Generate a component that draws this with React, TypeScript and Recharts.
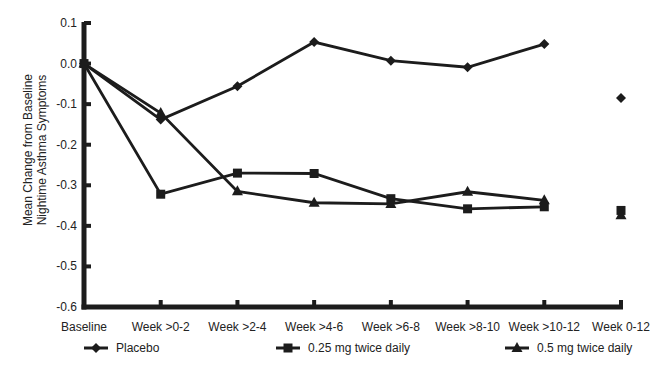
import { Line, LineChart, XAxis, YAxis } from "recharts";

const categories = [
  "Baseline",
  "Week >0-2",
  "Week >2-4",
  "Week >4-6",
  "Week >6-8",
  "Week >8-10",
  "Week >10-12",
  "Week 0-12"
];

// weekly values (last slot is the overall week 0-12 point, drawn unconnected)
const placebo = [0, -0.138, -0.056, 0.053, 0.007, -0.009, 0.048, null];
const dose025 = [0, -0.322, -0.27, -0.271, -0.333, -0.358, -0.353, null];
const dose05 = [0, -0.122, -0.315, -0.343, -0.346, -0.316, -0.337, null];

const placeboOverall = -0.085;
const dose025Overall = -0.362;
const dose05Overall = -0.374;

const yTicks = [0.1, 0, -0.1, -0.2, -0.3, -0.4, -0.5, -0.6];

const INK = "#1c1c1c";
const FONT = "'Liberation Sans', Arial, sans-serif";

// plot frame (pixels)
const AXIS_X = 84;
const AXIS_Y = 307;
const PLOT_RIGHT = 621;

const data = categories.map((name, i) => {
  const last = i === categories.length - 1;
  return {
    name,
    placebo: placebo[i],
    dose025: dose025[i],
    dose05: dose05[i],
    placeboAll: last ? placeboOverall : null,
    dose025All: last ? dose025Overall : null,
    dose05All: last ? dose05Overall : null
  };
});

type Marker = "diamond" | "square" | "triangle";

function markerPath(kind: Marker, cx: number, cy: number) {
  if (kind === "diamond") {
    return `M${cx},${cy - 5}L${cx + 5},${cy}L${cx},${cy + 5}L${cx - 5},${cy}Z`;
  }
  if (kind === "square") {
    return `M${cx - 4.5},${cy - 4.5}h9v9h-9Z`;
  }
  return `M${cx},${cy - 6}L${cx + 5.5},${cy + 4}L${cx - 5.5},${cy + 4}Z`;
}

const makeDot = (kind: Marker) => (props: any) => {
  const { cx, cy, index } = props;
  if (cx == null || cy == null || props.value == null) return <g key={index} />;
  return <path key={index} d={markerPath(kind, cx, cy)} fill={INK} />;
};

function YTick(props: any) {
  const { x, y, payload } = props;
  const v = payload.value as number;
  return (
    <g>
      {/* thick axis lines hang off the end ticks */}
      {payload.index === 0 || v === 0.1 ? (
        <line x1={AXIS_X} x2={AXIS_X} y1={y - 1} y2={AXIS_Y + 2.5} stroke={INK} strokeWidth={5} />
      ) : null}
      {v === -0.6 ? (
        <line x1={AXIS_X - 2.5} x2={PLOT_RIGHT + 2} y1={AXIS_Y} y2={AXIS_Y} stroke={INK} strokeWidth={5} />
      ) : null}
      <line x1={AXIS_X} x2={AXIS_X + 7} y1={y} y2={y} stroke={INK} strokeWidth={4} />
      <text x={x} y={y + 4} textAnchor="end" fontSize={12} fill="#222" fontFamily={FONT}>
        {v.toFixed(1)}
      </text>
    </g>
  );
}

function XTick(props: any) {
  const { x, payload } = props;
  return (
    <g>
      <line x1={x} x2={x} y1={AXIS_Y} y2={AXIS_Y - 7} stroke={INK} strokeWidth={4} />
      <text x={x} y={331} textAnchor="middle" fontSize={12} fill="#222" fontFamily={FONT}>
        {payload.value}
      </text>
    </g>
  );
}

function YLabel() {
  return (
    <text
      transform="translate(35,150) rotate(-90)"
      textAnchor="middle"
      fontSize={12}
      fill="#222"
      fontFamily={FONT}
    >
      <tspan x={0} dy={-3}>Mean Change from Baseline</tspan>
      <tspan x={0} dy={14}>Nightime Asthma Symptoms</tspan>
    </text>
  );
}

const legendItems: { label: string; kind: Marker; left: number }[] = [
  { label: "Placebo", kind: "diamond", left: 84 },
  { label: "0.25 mg twice daily", kind: "square", left: 276 },
  { label: "0.5 mg twice daily", kind: "triangle", left: 505 }
];

export default function App() {
  return (
    <div style={{ position: "absolute", left: 0, top: 0, width: 672, height: 376, background: "#fff" }}>
      <LineChart
        width={672}
        height={376}
        data={data}
        margin={{ top: 23, right: 51, bottom: 39, left: 0 }}
      >
        <XAxis
          dataKey="name"
          height={30}
          axisLine={false}
          tickLine={false}
          tickSize={0}
          tick={<XTick />}
          interval={0}
        />
        <YAxis
          width={84}
          domain={[-0.6, 0.1]}
          ticks={yTicks}
          axisLine={false}
          tickLine={false}
          tickSize={0}
          tickMargin={7}
          tick={<YTick />}
          label={<YLabel />}
        />
        <Line dataKey="placebo" stroke={INK} strokeWidth={2.8} dot={makeDot("diamond")} isAnimationActive={false} />
        <Line dataKey="dose025" stroke={INK} strokeWidth={2.8} dot={makeDot("square")} isAnimationActive={false} />
        <Line dataKey="dose05" stroke={INK} strokeWidth={2.8} dot={makeDot("triangle")} isAnimationActive={false} />
        <Line dataKey="placeboAll" stroke="none" dot={makeDot("diamond")} isAnimationActive={false} />
        <Line dataKey="dose025All" stroke="none" dot={makeDot("square")} isAnimationActive={false} />
        <Line dataKey="dose05All" stroke="none" dot={makeDot("triangle")} isAnimationActive={false} />
      </LineChart>
      {legendItems.map(item => (
        <div
          key={item.label}
          style={{
            position: "absolute",
            left: item.left,
            top: 341,
            display: "flex",
            alignItems: "center",
            fontFamily: FONT,
            fontSize: 12,
            color: "#222"
          }}
        >
          <svg width={24} height={14} style={{ marginRight: 8 }}>
            <line x1={0} x2={24} y1={7} y2={7} stroke={INK} strokeWidth={3} />
            <path d={markerPath(item.kind, 12, 7)} fill={INK} />
          </svg>
          {item.label}
        </div>
      ))}
    </div>
  );
}
